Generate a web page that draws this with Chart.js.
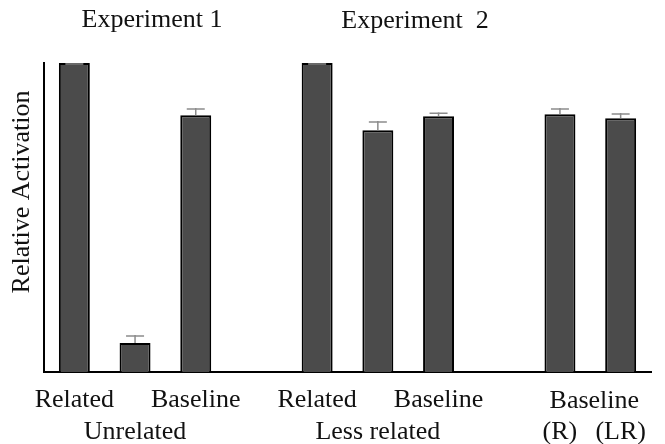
<!DOCTYPE html>
<html>
<head>
<meta charset="utf-8">
<script src="https://cdn.jsdelivr.net/npm/chart.js@4"></script>
<style>
  html, body { margin: 0; padding: 0; background: #fff; }
  #wrap { width: 665px; height: 444px; }
</style>
</head>
<body>
<div id="wrap"><canvas id="chart"></canvas></div>
<script>
// tick labels, two rows under the bars
const labelsTop = ["Related", "", "Baseline", "", "Related", "", "Baseline", "", "", ""];
const labelsBottom = ["", "Unrelated", "", "", "", "Less related", "", "", "(R)", "(LR)"];
// bar heights (relative activation) and upper error
const activation = [1.0, 0.094, 0.831, null, 1.0, 0.782, 0.828, null, 0.834, 0.821];
const errorUp = [0, 0.026, 0.023, null, 0, 0.030, 0.013, null, 0.020, 0.017];

const serif = '"Liberation Serif", "Times New Roman", serif';

// error bars + free text (titles, y title, shared "Baseline")
const extras = {
  id: 'extras',
  afterDatasetsDraw(chart) {
    const ctx = chart.ctx;
    const meta = chart.getDatasetMeta(0);
    const y = chart.scales.y;
    ctx.save();
    ctx.strokeStyle = '#8c8c8c';
    ctx.lineWidth = 1.5;
    meta.data.forEach((bar, i) => {
      if (activation[i] == null) return;
      const top = y.getPixelForValue(activation[i] + errorUp[i]);
      const base = y.getPixelForValue(activation[i]);
      ctx.beginPath();
      ctx.moveTo(bar.x, base);
      ctx.lineTo(bar.x, top);
      ctx.moveTo(bar.x - 9, top + 1);
      ctx.lineTo(bar.x + 9, top + 1);
      ctx.stroke();
    });
    ctx.restore();
  },
  afterDraw(chart) {
    const ctx = chart.ctx;
    const x = chart.scales.x;
    ctx.save();
    ctx.fillStyle = '#111';
    ctx.font = '26px ' + serif;
    ctx.textAlign = 'center';
    ctx.textBaseline = 'alphabetic';
    ctx.fillText('Experiment 1', 152, 27);
    ctx.fillText('Experiment  2', 415, 28);
    // shared label for the last pair
    ctx.textBaseline = 'middle';
    const mid = (x.getPixelForValue(8) + x.getPixelForValue(9)) / 2;
    ctx.fillText('Baseline', mid + 4, 401);
    // y title
    ctx.translate(22, 192);
    ctx.rotate(-Math.PI / 2);
    ctx.fillText('Relative Activation', 0, 0);
    ctx.restore();
  }
};

new Chart(document.getElementById('chart'), {
  type: 'bar',
  data: {
    labels: labelsTop.map((t, i) => [t, labelsBottom[i]]),
    datasets: [{
      data: activation,
      backgroundColor: '#4b4b4b',
      borderColor: '#000',
      borderWidth: 2,
      categoryPercentage: 1,
      barPercentage: 0.51
    }]
  },
  options: {
    responsive: true,
    maintainAspectRatio: false,
    animation: false,
    layout: { padding: { left: 44, right: 14, top: 63, bottom: 0 } },
    plugins: { legend: { display: false }, tooltip: { enabled: false } },
    scales: {
      x: {
        afterFit(scale) { scale.height = 72; },
        grid: { display: false, drawTicks: false },
        border: { display: true, color: '#000', width: 2 },
        ticks: {
          autoSkip: false,
          maxRotation: 0,
          padding: 13,
          color: '#111',
          font: { family: serif, size: 26, lineHeight: 1.2 }
        }
      },
      y: {
        min: 0,
        max: 1,
        grid: { display: false, drawTicks: false },
        border: { display: true, color: '#000', width: 2 },
        ticks: { display: false }
      }
    }
  },
  plugins: [extras]
});
</script>
</body>
</html>
